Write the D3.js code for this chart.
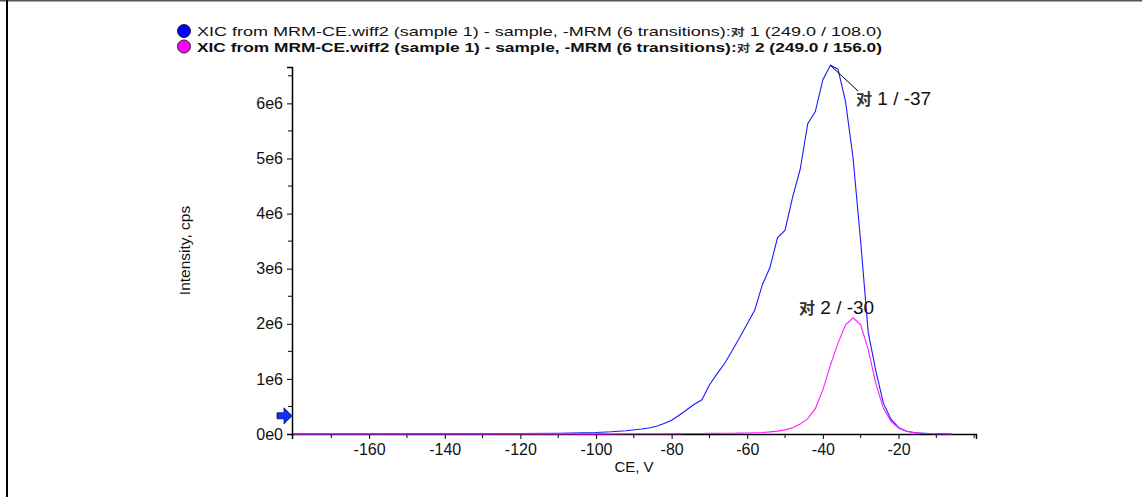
<!DOCTYPE html>
<html>
<head>
<meta charset="utf-8">
<script src="https://cdn.jsdelivr.net/npm/d3@7"></script>
<style>
  body { margin: 0; background: #fff; }
  svg { display: block; font-family: "Liberation Sans", Arial, sans-serif; }
</style>
</head>
<body>
<svg id="chart" width="1142" height="497"></svg>
<script>
  var width = 1142, height = 497

  // CE values (V) shared by both transitions
  var ce = [-180, -170, -160, -150, -140, -130, -120, -110, -100, -96, -92, -88,
    -86, -84, -82, -80, -78, -76, -74, -72, -70, -68, -66, -64, -62, -60,
    -58, -56, -54, -52, -50, -48, -46, -44, -42, -40, -38, -36, -34, -32,
    -30, -28, -26, -24, -22, -20, -18, -16, -14, -12, -10, -8, -6]

  // intensity, cps, transition 1 (249.0 / 108.0)
  var tr1 = [5000, 5000, 5500, 6000, 6500, 7500, 9000, 14000, 28000, 40000, 60000, 90000,
    110000, 140000, 190000, 250000, 340000, 440000, 540000, 620000, 890000, 1090000, 1280000, 1510000, 1750000, 2000000,
    2250000, 2710000, 3020000, 3560000, 3700000, 4300000, 4800000, 5630000, 5850000, 6430000, 6690000, 6620000, 6030000, 5000000,
    3490000, 1840000, 1150000, 560000, 270000, 120000, 55000, 28000, 15000, 9000, 6000, 4000, 3000]

  // intensity, cps, transition 2 (249.0 / 156.0)
  var tr2 = [2000, 2000, 2000, 2000, 2000, 2000, 2000, 2000, 2500, 3000, 3500, 4000,
    4500, 5000, 5500, 6000, 7000, 8000, 9000, 10000, 11000, 12000, 13000, 14000, 16000, 18000,
    22000, 28000, 38000, 52000, 75000, 115000, 180000, 280000, 460000, 800000, 1250000, 1650000, 1980000, 2110000,
    1980000, 1530000, 920000, 470000, 230000, 110000, 50000, 25000, 13000, 8000, 5000, 3500, 2500]

  var xTicks = [-160, -140, -120, -100, -80, -60, -40, -20]
  var xMinor = [-170, -150, -130, -110, -90, -70, -50, -30, -10, 0]
  var yTicks = [0, 1e6, 2e6, 3e6, 4e6, 5e6, 6e6]
  var yMinor = [0.5e6, 1.5e6, 2.5e6, 3.5e6, 4.5e6, 5.5e6, 6.5e6]

  var legendText = [
    {pre: "XIC from MRM-CE.wiff2 (sample 1) - sample, -MRM (6 transitions):", post: " 1 (249.0 / 108.0)", color: "#0000ff", bold: false},
    {pre: "XIC from MRM-CE.wiff2 (sample 1) - sample, -MRM (6 transitions):", post: " 2 (249.0 / 156.0)", color: "#ff00ff", bold: true}
  ]

  var margin = {left: 292, top: 67, right: 166, bottom: 63}

  var x = d3.scaleLinear().domain([-180.4, 0.5]).range([margin.left, width - margin.right])
  var y = d3.scaleLinear().domain([0, 6.66e6]).range([height - margin.bottom, margin.top])

  var svg = d3.select("#chart")

  // frame
  svg.append("line").attr("x1", 0).attr("x2", width).attr("y1", 0.5).attr("y2", 0.5)
    .attr("stroke", "#555").attr("stroke-width", 2)
  svg.append("line").attr("x1", 7).attr("x2", 7).attr("y1", 0).attr("y2", height)
    .attr("stroke", "#000").attr("stroke-width", 2)

  // axes
  var xAxis = svg.append("g")
    .attr("transform", "translate(0," + y(0) + ")")
    .call(d3.axisBottom(x).tickValues(xTicks).tickSizeOuter(0).tickSize(5).tickPadding(5)
      .tickFormat(function(d) { return String(d) }))
  xAxis.selectAll(".minor").data(xMinor).enter().append("line")
    .attr("x1", function(d) { return x(d) }).attr("x2", function(d) { return x(d) })
    .attr("y1", 0).attr("y2", 4).attr("stroke", "#000")

  var yAxis = svg.append("g")
    .attr("transform", "translate(" + x.range()[0] + ",0)")
    .call(d3.axisLeft(y).tickValues(yTicks).tickSizeOuter(0).tickSize(5).tickPadding(4)
      .tickFormat(function(d) { return (d / 1e6) + "e" + (d ? 6 : 0) }))
  yAxis.selectAll(".minor").data(yMinor).enter().append("line")
    .attr("y1", function(d) { return y(d) }).attr("y2", function(d) { return y(d) })
    .attr("x1", 0).attr("x2", -4).attr("stroke", "#000")

  svg.selectAll(".domain").attr("stroke-width", 1.5)
  svg.selectAll(".tick text").attr("font-size", 16).attr("fill", "#111")
    .attr("font-family", "'Liberation Sans', Arial, sans-serif")

  svg.append("text").attr("x", (x.range()[0] + x.range()[1]) / 2).attr("y", 472).attr("text-anchor", "middle")
    .attr("font-size", 15).attr("fill", "#111").text("CE, V")
  svg.append("text").attr("transform", "translate(190," + ((y.range()[0] + y.range()[1]) / 2) + ") rotate(-90)")
    .attr("text-anchor", "middle").attr("font-size", 15.5).attr("fill", "#111").text("Intensity, cps")

  // traces
  var line = d3.line().x(function(d) { return x(d[0]) }).y(function(d) { return y(d[1]) })
  var series = [
    {values: d3.zip(ce, tr1), color: "#1a1aff"},
    {values: d3.zip(ce, tr2), color: "#ff1aff"}
  ]
  svg.selectAll(".trace").data(series).enter().append("path")
    .attr("class", "trace").attr("fill", "none").attr("stroke-width", 1.1)
    .attr("stroke", function(d) { return d.color })
    .attr("d", function(d) { return line(d.values) })

  // arrow on y-axis
  var ay = y(0.33e6)
  svg.append("path")
    .attr("d", "M" + (x.range()[0] - 15) + "," + (ay - 3) + "h7v-5l8,8l-8,8v-5h-7z")
    .attr("fill", "#1030ff").attr("stroke", "#00104a").attr("stroke-width", 0.8)

  // peak labels
  function peakLabel(px, py, num, ce) {
    var t = svg.append("text").attr("x", px).attr("y", py).attr("font-size", 19).attr("fill", "#111")
    t.append("tspan").attr("fill", "#333").attr("font-weight", "bold")
      .attr("font-family", "'Noto Sans CJK SC'").attr("font-size", 16).text("对")
    t.append("tspan").text(" " + num + " / " + ce)
  }
  svg.append("line").attr("x1", x(-38)).attr("y1", y(6.69e6)).attr("x2", 858).attr("y2", 91)
    .attr("stroke", "#000").attr("stroke-width", 1)
  peakLabel(856, 105, 1, -37)
  peakLabel(799, 314, 2, -30)

  // legend
  var lg = svg.selectAll(".legend").data(legendText).enter().append("g")
    .attr("transform", function(d, i) { return "translate(184," + (31 + i * 15.5) + ")" })
  lg.append("circle").attr("r", 6.5).attr("fill", function(d) { return d.color })
    .attr("stroke", "#222").attr("stroke-width", 1)
  var lt = lg.append("text").attr("x", 13).attr("y", 5).attr("font-size", 13.5).attr("fill", "#111")
    .attr("font-weight", function(d) { return d.bold ? "bold" : "normal" })
    .attr("textLength", 685).attr("lengthAdjust", "spacingAndGlyphs")
  lt.append("tspan").text(function(d) { return d.pre })
  lt.append("tspan").attr("fill", "#333").attr("font-weight", "bold")
    .attr("font-family", "'Noto Sans CJK SC'").attr("font-size", 10.5).text("对")
  lt.append("tspan").text(function(d) { return d.post })
</script>
</body>
</html>
